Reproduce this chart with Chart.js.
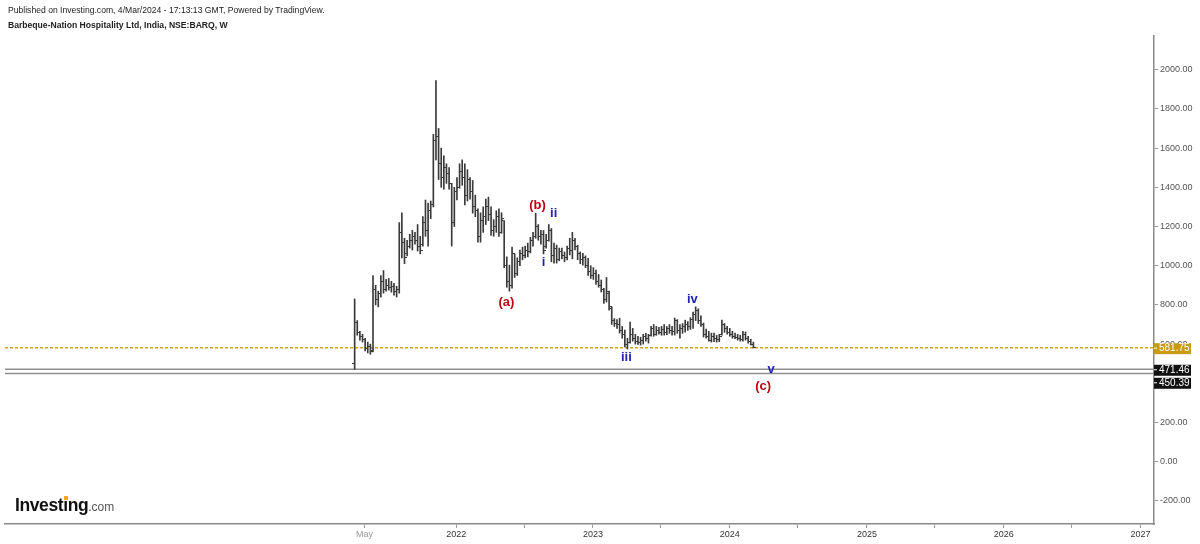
<!DOCTYPE html>
<html>
<head>
<meta charset="utf-8">
<script src="https://cdn.jsdelivr.net/npm/chart.js@4/dist/chart.umd.min.js"></script>
<style>
  body { margin: 0; background: #fff; font-family: "Liberation Sans", Arial, sans-serif; }
  #wrap { position: relative; width: 1200px; height: 544px; }
  .hdr { position: absolute; left: 8px; font-size: 8.6px; color: #222; white-space: nowrap; }
  #logo { position: absolute; left: 15px; top: 495px; white-space: nowrap; }
  #logo .big { font-size: 17.5px; font-weight: bold; color: #111; letter-spacing: -0.4px; }
  #logo .com { font-size: 12px; color: #555; }
  #logo .dot { position: relative; }
  #logo .dot::before { content: ""; position: absolute; left: 1px; top: 1px; width: 4px; height: 4px; background: #f5a623; }
</style>
</head>
<body>
<div id="wrap">
  <canvas id="chart" width="1200" height="544"></canvas>
  <div class="hdr" style="top:5px">Published on Investing.com, 4/Mar/2024 - 17:13:13 GMT, Powered by TradingView.</div>
  <div class="hdr" style="top:20px;font-weight:bold">Barbeque-Nation Hospitality Ltd, India, NSE:BARQ, W</div>
  <div id="logo"><span class="big">Invest<span class="dot">ı</span>ng</span><span class="com">.com</span></div>
</div>
<script>
const day = (y, m, d) => Date.UTC(y, m - 1, d) / 864e5;

// weekly bars, first week starting 5 Apr 2021
const firstWeek = day(2021, 4, 5);
const opens = [500,710,660,640,625,580,590,565,880,830,860,920,880,900,890,895,870,880,1170,1120,1060,1100,1130,1150,1130,1100,1110,1220,1180,1280,1310,1640,1660,1520,1450,1500,1470,1420,1220,1380,1400,1480,1450,1360,1440,1380,1300,1280,1150,1230,1250,1300,1260,1180,1200,1250,1170,1230,1000,920,900,1060,960,1020,1060,1050,1080,1070,1130,1150,1200,1150,1160,1100,1130,1180,1050,1090,1030,1070,1050,1040,1090,1080,1130,1100,1060,1030,1040,1000,970,950,960,920,900,880,830,860,780,720,705,700,670,650,600,610,650,630,615,610,620,640,630,645,680,650,670,660,675,660,680,670,665,720,670,680,690,700,690,725,750,770,720,700,650,640,620,640,630,625,650,700,680,660,650,640,635,630,625,650,630,615,600];
const highs = [830,720,665,650,630,610,600,950,900,870,950,975,930,935,920,910,895,1220,1270,1140,1130,1160,1180,1170,1210,1150,1250,1335,1320,1330,1670,1944,1700,1600,1560,1520,1500,1420,1400,1450,1520,1540,1520,1490,1450,1435,1360,1290,1270,1300,1340,1350,1300,1235,1280,1290,1270,1230,1045,1003,1095,1060,1040,1080,1095,1100,1115,1145,1170,1268,1210,1180,1180,1160,1210,1190,1115,1105,1090,1090,1070,1100,1140,1170,1140,1105,1070,1063,1050,1037,1000,990,978,955,927,885,940,870,790,730,725,732,690,672,630,712,680,650,640,635,650,655,650,690,700,690,685,690,700,690,700,690,733,725,700,705,722,715,735,763,790,780,744,707,676,665,656,656,645,650,722,705,690,680,665,656,650,645,665,662,640,625,610];
const lows = [471.46,645,620,610,565,555,548,560,800,790,840,860,870,875,865,850,840,860,1040,1010,1050,1090,1080,1110,1075,1060,1100,1150,1100,1240,1300,1540,1440,1400,1390,1420,1390,1100,1200,1335,1395,1410,1310,1330,1340,1268,1250,1120,1120,1170,1210,1230,1155,1150,1170,1150,1165,990,890,870,885,940,950,1000,1030,1040,1045,1065,1100,1140,1130,1110,1060,1090,1125,1020,1013,1013,1025,1035,1020,1030,1055,1035,1080,1030,1010,1003,990,950,935,930,905,890,866,808,815,773,700,690,680,656,630,585,575,605,615,600,598,595,600,615,605,640,640,645,650,645,646,648,655,646,646,655,630,655,661,670,675,680,720,705,690,636,630,615,610,612,610,612,646,660,650,640,630,628,620,615,615,620,605,595,580];
const closes = [710,660,640,625,580,590,560,880,830,860,920,880,900,890,895,870,880,1170,1120,1040,1100,1130,1150,1130,1100,1080,1220,1180,1280,1310,1640,1660,1520,1450,1500,1470,1420,1220,1380,1400,1480,1450,1360,1440,1380,1300,1280,1150,1230,1250,1300,1260,1180,1200,1250,1170,1240,1000,920,900,1060,960,1020,1060,1050,1080,1070,1130,1150,1200,1150,1160,1080,1130,1180,1050,1090,1030,1070,1050,1040,1090,1080,1130,1100,1060,1030,1040,1000,970,950,960,920,900,880,830,870,790,720,705,700,670,650,600,610,650,630,615,610,620,640,630,645,680,650,670,660,675,660,680,670,665,720,670,680,690,700,690,725,750,770,720,700,650,640,620,640,630,625,640,700,680,660,650,640,635,630,625,650,630,615,600,581.75];
const weeks = closes.map((_, i) => firstWeek + 7 * i);

// axis ticks
const xTickDays = [day(2021,5,1), day(2022,1,1), day(2022,7,1), day(2023,1,1), day(2023,7,1), day(2024,1,1),
                   day(2024,7,1), day(2025,1,1), day(2025,7,1), day(2026,1,1), day(2026,7,1), day(2027,1,1)];
const xTickLabels = ["May", "2022", "", "2023", "", "2024", "", "2025", "", "2026", "", "2027"];
const xMin = day(2018, 9, 15), xMax = day(2027, 2, 6);
const yMin = -318, yMax = 2172;

// price levels
const lastPrice = 581.75;
const supportLevels = [471.46, 450.39];

// wave labels
const waveText  = ["(a)", "(b)", "(c)", "i", "ii", "iii", "iv", "v"];
const waveDate  = [day(2022,5,15), day(2022,8,6), day(2024,3,30), day(2022,8,22), day(2022,9,18), day(2023,3,31), day(2023,9,23), day(2024,4,20)];
const wavePrice = [815, 1310, 386, 1019, 1269, 534, 830, 473];
const waveColor = ["#c00012", "#c00012", "#c00012", "#2323b4", "#2323b4", "#2323b4", "#2323b4", "#2323b4"];

function tickImage(left) {
  const c = document.createElement("canvas");
  c.width = 5; c.height = 1;
  const g = c.getContext("2d");
  g.fillStyle = "#3a3a3a";
  g.fillRect(left ? 0 : 3, 0, 2, 1);
  return c;
}

const overlay = {
  id: "overlay",
  beforeDatasetsDraw(chart) {
    const { ctx, chartArea: a, scales: { y } } = chart;
    ctx.save();
    ctx.strokeStyle = "#8f8f8f";
    ctx.lineWidth = 1.5;
    supportLevels.forEach(v => {
      const py = y.getPixelForValue(v);
      ctx.beginPath(); ctx.moveTo(a.left, py); ctx.lineTo(a.right, py); ctx.stroke();
    });
    ctx.strokeStyle = "#d4a21c";
    ctx.setLineDash([3, 2]);
    const py = y.getPixelForValue(lastPrice);
    ctx.beginPath(); ctx.moveTo(a.left, py); ctx.lineTo(a.right, py); ctx.stroke();
    ctx.restore();
  },
  afterDatasetsDraw(chart) {
    const { ctx, scales: { x, y } } = chart;
    ctx.save();
    ctx.font = "bold 13px 'Liberation Sans', Arial, sans-serif";
    ctx.textAlign = "center";
    ctx.textBaseline = "middle";
    waveText.forEach((t, i) => {
      ctx.fillStyle = waveColor[i];
      ctx.fillText(t, x.getPixelForValue(waveDate[i]), y.getPixelForValue(wavePrice[i]));
    });
    ctx.restore();
  },
  afterDraw(chart) {
    const { ctx, chartArea: a, scales: { y } } = chart;
    const boxes = [{ v: lastPrice, bg: "#c99b14" }].concat(supportLevels.map(v => ({ v, bg: "#111" })));
    let prev = -Infinity;
    ctx.save();
    ctx.font = "10px 'Liberation Sans', Arial, sans-serif";
    ctx.textBaseline = "middle";
    boxes.forEach(b => {
      const py = y.getPixelForValue(b.v);
      const cy = Math.max(py + 0.5, prev + 13);
      prev = cy;
      ctx.fillStyle = b.bg;
      ctx.fillRect(a.right, cy - 5, 37, 11);
      ctx.fillStyle = "#fff";
      ctx.fillRect(a.right, cy - 0.5, 3, 1);
      ctx.fillText(b.v.toFixed(2), a.right + 5, cy + 0.5);
    });
    ctx.restore();
  }
};

new Chart(document.getElementById("chart"), {
  data: {
    datasets: [
      {
        type: "bar",
        data: weeks.map((w, i) => ({ x: w, y: [lows[i], highs[i]] })),
        backgroundColor: "#3a3a3a",
        barThickness: 1,
        grouped: false
      },
      {
        type: "scatter",
        data: weeks.map((w, i) => ({ x: w, y: opens[i] })),
        pointStyle: tickImage(true),
        pointRadius: 2
      },
      {
        type: "scatter",
        data: weeks.map((w, i) => ({ x: w, y: closes[i] })),
        pointStyle: tickImage(false),
        pointRadius: 2
      }
    ]
  },
  options: {
    responsive: false,
    animation: false,
    layout: { padding: { left: 5, top: 36, right: 0, bottom: 0 } },
    plugins: { legend: { display: false }, tooltip: { enabled: false } },
    scales: {
      x: {
        type: "linear",
        min: xMin,
        max: xMax,
        offset: false,
        afterBuildTicks: s => { s.ticks = xTickDays.map(v => ({ value: v })); },
        afterFit: s => { s.height = 20; },
        ticks: {
          autoSkip: false,
          maxRotation: 0,
          padding: 1,
          font: { size: 9, family: "'Liberation Sans', Arial, sans-serif" },
          color: c => (c.index === 0 ? "#999" : "#333"),
          callback: (v, i) => xTickLabels[i]
        },
        grid: { offset: false, drawOnChartArea: false, tickLength: 4, color: "#999" },
        border: { color: "#8a8a8a", width: 1.5 }
      },
      y: {
        position: "right",
        min: yMin,
        max: yMax,
        afterFit: s => { s.width = 46; },
        ticks: {
          stepSize: 200,
          includeBounds: false,
          padding: 2,
          font: { size: 9, family: "'Liberation Sans', Arial, sans-serif" },
          color: "#555",
          callback: v => v.toFixed(2)
        },
        grid: { drawOnChartArea: false, tickLength: 4, color: "#999" },
        border: { color: "#8a8a8a", width: 1.5 }
      }
    }
  },
  plugins: [overlay]
});
</script>
</body>
</html>
